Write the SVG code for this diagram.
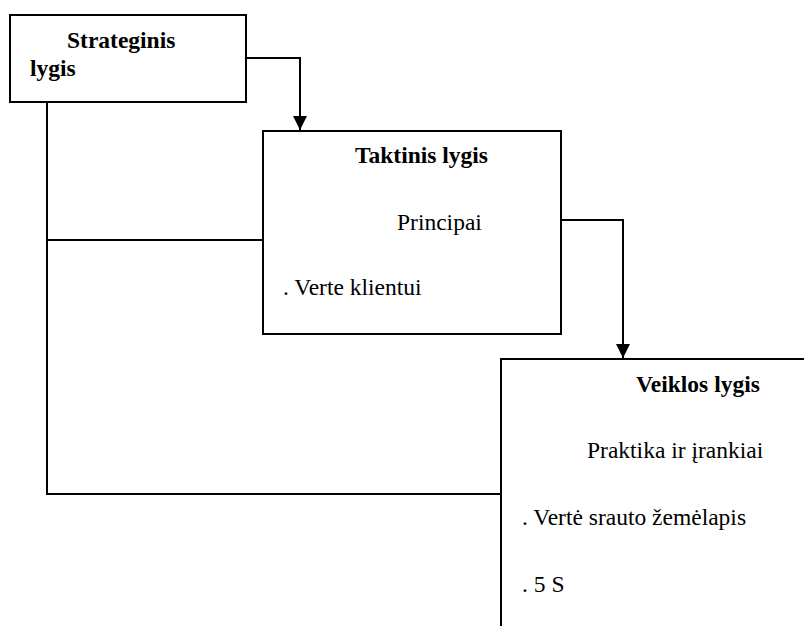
<svg xmlns="http://www.w3.org/2000/svg" width="804" height="626" viewBox="0 0 804 626">
<style>
.box{fill:#fff;stroke:#000;stroke-width:2}
.ln{fill:none;stroke:#000;stroke-width:2}
text{font-family:"Liberation Serif","Times New Roman",serif;font-size:23.5px;fill:#000}
.b{font-weight:bold}
</style>
<defs>
<marker id="ah" viewBox="0 0 14 14" refX="14" refY="7" markerWidth="14" markerHeight="14" markerUnits="userSpaceOnUse" orient="auto">
<path d="M0,0 L14,7 L0,14 Z" fill="#000"/>
</marker>
</defs>
<rect width="804" height="626" fill="#fff"/>
<g id="connectors">
<polyline class="ln" points="246,58 300,58 300,130" marker-end="url(#ah)"/>
<polyline class="ln" points="561,220 623,220 623,358" marker-end="url(#ah)"/>
<polyline class="ln" points="47,102 47,494 501,494"/>
<line class="ln" x1="47" y1="240" x2="263" y2="240"/>
</g>
<g id="strateginis">
<rect class="box" x="10" y="15" width="236" height="87"/>
<text class="b" x="67" y="48">Strateginis</text>
<text class="b" x="30" y="76">lygis</text>
</g>
<g id="taktinis">
<rect class="box" x="263" y="131" width="298" height="203"/>
<text class="b" x="355" y="163">Taktinis lygis</text>
<text x="397" y="230">Principai</text>
<text x="283" y="295">. Verte klientui</text>
</g>
<g id="veiklos">
<path class="ln" d="M501,627 L501,359 L805,359"/>
<text class="b" x="636" y="392">Veiklos lygis</text>
<text x="587" y="458">Praktika ir įrankiai</text>
<text x="522" y="525">. Vertė srauto žemėlapis</text>
<text x="522" y="592">. 5 S</text>
</g>
</svg>
